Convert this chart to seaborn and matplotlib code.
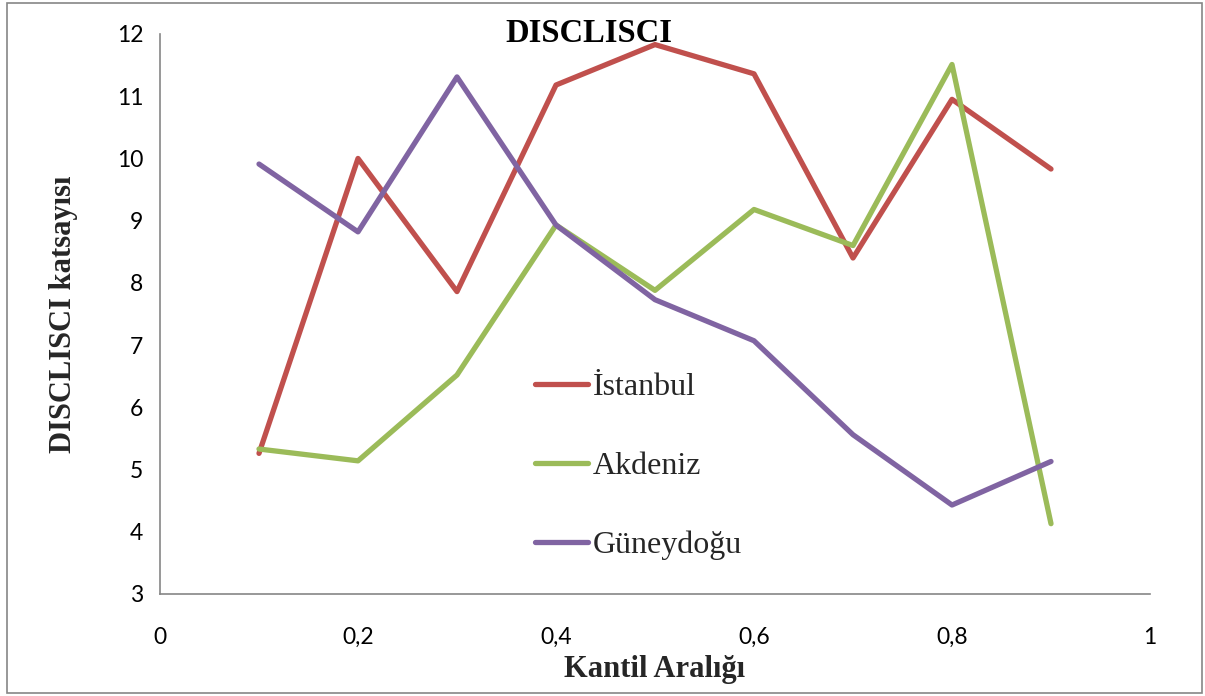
import matplotlib
matplotlib.use("Agg")
import matplotlib.pyplot as plt
import matplotlib.patches as patches
import pandas as pd
import seaborn as sns

# veriler
kantil = [0.1, 0.2, 0.3, 0.4, 0.5, 0.6, 0.7, 0.8, 0.9]
istanbul = [5.26, 10.0, 7.86, 11.18, 11.83, 11.36, 8.40, 10.95, 9.83]
akdeniz = [5.33, 5.14, 6.52, 8.93, 7.88, 9.18, 8.60, 11.51, 4.13]
guneydogu = [9.91, 8.82, 11.31, 8.93, 7.73, 7.07, 5.56, 4.43, 5.13]
bolgeler = ["İstanbul", "Akdeniz", "Güneydoğu"]
renkler = ["#C0504D", "#9BBB59", "#8064A2"]
x_ticks = [0, 0.2, 0.4, 0.6, 0.8, 1]
x_tick_labels = ["0", "0,2", "0,4", "0,6", "0,8", "1"]
y_ticks = [3, 4, 5, 6, 7, 8, 9, 10, 11, 12]

df = pd.DataFrame({
    "kantil": kantil * 3,
    "deger": istanbul + akdeniz + guneydogu,
    "bolge": [b for b in bolgeler for _ in kantil],
})

sns.set_style("white")
plt.rcParams["font.family"] = ["Lato", "DejaVu Sans"]

fig = plt.figure(figsize=(12.05, 6.96), dpi=100)
ax = fig.add_axes([160 / 1205, 1 - 594 / 696, 990 / 1205, 560 / 696])

sns.lineplot(data=df, x="kantil", y="deger", hue="bolge", hue_order=bolgeler,
             palette=renkler, linewidth=3.8, ax=ax, legend=True)

ax.set_xlim(0, 1)
ax.set_ylim(3, 12)
ax.set_xticks(x_ticks)
ax.set_xticklabels(x_tick_labels)
ax.set_yticks(y_ticks)
ax.tick_params(axis="both", labelsize=16.5, colors="#868686", labelcolor="black",
               length=6, width=1, direction="out")
ax.tick_params(axis="x", pad=18)
ax.tick_params(axis="y", pad=6)
for s in ["top", "right"]:
    ax.spines[s].set_visible(False)
for s in ["left", "bottom"]:
    ax.spines[s].set_color("#868686")
    ax.spines[s].set_linewidth(1.2)

serif = ["Liberation Serif", "DejaVu Serif"]
ax.set_xlabel("Kantil Aralığı", family=serif, fontsize=22, fontweight="bold", labelpad=5)
ax.set_ylabel("DISCLISCI katsayısı", family=serif, fontsize=22, fontweight="bold", labelpad=28)
fig.text(589 / 1205, 1 - 34 / 696, "DISCLISCI", family=serif, fontsize=23.5,
         fontweight="bold", color="black", ha="center", va="center")

handles, labels = ax.get_legend_handles_labels()
for h in handles:
    h.set_linewidth(3.8)
ax.legend(handles, labels, loc="upper left", bbox_to_anchor=(0.379, 0.395),
          frameon=False, borderpad=0, borderaxespad=0, handlelength=1.65,
          handletextpad=0.15, labelspacing=1.55,
          prop={"family": serif, "size": 23})

fig.patches.append(patches.Rectangle((7 / 1205, 3 / 696), 1195 / 1205, 690 / 696,
                                     transform=fig.transFigure, fill=False,
                                     edgecolor="#868686", linewidth=1.2))

fig.savefig("out.png", dpi=100)
